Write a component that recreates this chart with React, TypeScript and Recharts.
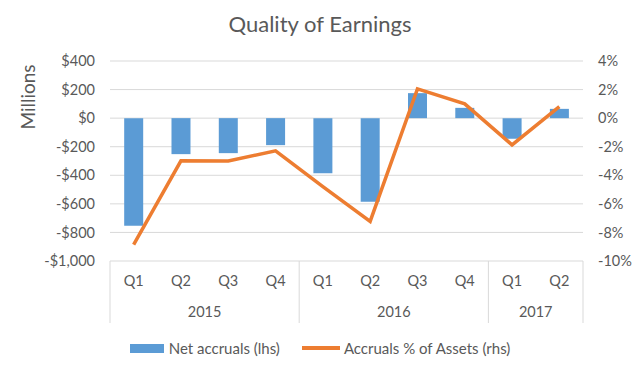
import React from "react";
import { ComposedChart, Bar, Line, XAxis, YAxis, CartesianGrid } from "recharts";

const quarters = ["Q1", "Q2", "Q3", "Q4", "Q1", "Q2", "Q3", "Q4", "Q1", "Q2"];
const years = ["2015", "2015", "2015", "2015", "2016", "2016", "2016", "2016", "2017", "2017"];
const netAccruals = [-753, -252, -245, -189, -385, -585, 175, 72, -145, 65];
const accrualsPct = [-8.86, -2.99, -3.0, -2.29, -4.8, -7.23, 2.05, 1.0, -1.87, 0.81];
const leftTicks = [-1000, -800, -600, -400, -200, 0, 200, 400];
const rightTicks = [-10, -8, -6, -4, -2, 0, 2, 4];

const seriesNames = ["Net accruals (lhs)", "Accruals % of Assets (rhs)"];

const data = quarters.map((q, i) => ({
  q,
  year: years[i],
  net: netAccruals[i],
  pct: accrualsPct[i],
}));

const W = 640;
const H = 368;
const M = { top: 61, right: 0, bottom: 45, left: 0 };
const LEFT_W = 110;
const RIGHT_W = 57;
const Q_H = 36;
const Y_H = 26;
const PLOT_W = W - LEFT_W - RIGHT_W;
const BAND = PLOT_W / data.length;
const FONT = "Lato, 'Open Sans', sans-serif";
const TXT = "#595959";
const GRID = "#d9d9d9";
const BLUE = "#5b9bd5";
const ORANGE = "#ed7d31";

const fmtMoney = (v: number) => (v < 0 ? "-$" : "$") + Math.abs(v).toLocaleString("en-US");
const fmtPct = (v: number) => `${v}%`;

const QTick = (props: any) => {
  const { x, y, payload } = props;
  return (
    <text x={x} y={y + 21} textAnchor="middle" dominantBaseline="middle" fill={TXT} fontSize={14.5} fontFamily={FONT}>
      {payload.value}
    </text>
  );
};

const YearTick = (props: any) => {
  const { x, y, payload } = props;
  const i = payload.index;
  const yr = years[i];
  const isFirst = i === 0 || years[i - 1] !== yr;
  const isLast = i === years.length - 1;
  const count = years.filter((v) => v === yr).length;
  return (
    <g>
      {isFirst && (
        <line x1={x - BAND / 2} x2={x - BAND / 2} y1={y - Q_H} y2={y + Y_H} stroke={GRID} strokeWidth={1} />
      )}
      {isLast && (
        <line x1={x + BAND / 2} x2={x + BAND / 2} y1={y - Q_H} y2={y + Y_H} stroke={GRID} strokeWidth={1} />
      )}
      {isFirst && (
        <text
          x={x + ((count - 1) / 2) * BAND}
          y={y + 16}
          textAnchor="middle"
          dominantBaseline="middle"
          fill={TXT}
          fontSize={14.5}
          fontFamily={FONT}
        >
          {yr}
        </text>
      )}
    </g>
  );
};

export default function App() {
  return (
    <div style={{ position: "absolute", left: 0, top: 0, width: W, height: H, background: "#fff", fontFamily: FONT }}>
      <div
        style={{
          position: "absolute",
          top: 9,
          left: 0,
          width: W,
          textAlign: "center",
          fontSize: 22,
          color: TXT,
          lineHeight: "30px",
        }}
      >
        Quality of Earnings
      </div>
      <ComposedChart width={W} height={H} data={data} margin={M} barCategoryGap="30%">
        <CartesianGrid vertical={false} stroke={GRID} yAxisId="left" />
        <XAxis
          dataKey="q"
          xAxisId="q"
          height={Q_H}
          tickLine={false}
          axisLine={false}
          tickSize={0}
          tickMargin={0}
          interval={0}
          tick={<QTick />}
        />
        <XAxis
          dataKey="year"
          xAxisId="yr"
          height={Y_H}
          tickLine={false}
          axisLine={false}
          tickSize={0}
          tickMargin={0}
          interval={0}
          tick={<YearTick />}
        />
        <YAxis
          yAxisId="left"
          width={LEFT_W}
          domain={[-1000, 400]}
          ticks={leftTicks}
          tickFormatter={fmtMoney}
          tickLine={false}
          axisLine={false}
          tickSize={0}
          tickMargin={15}
          tick={{ fill: TXT, fontSize: 14.5, fontFamily: FONT }}
          label={{
            value: "Millions",
            content: () => (
              <text
                x={30}
                y={97}
                transform="rotate(-90 30 97)"
                textAnchor="middle"
                dominantBaseline="middle"
                fill={TXT}
                fontSize={19}
                fontFamily={FONT}
              >
                Millions
              </text>
            ),
          }}
        />
        <YAxis
          yAxisId="right"
          orientation="right"
          width={RIGHT_W}
          domain={[-10, 4]}
          ticks={rightTicks}
          tickFormatter={fmtPct}
          tickLine={false}
          axisLine={false}
          tickSize={0}
          tickMargin={15}
          tick={{ fill: TXT, fontSize: 14.5, fontFamily: FONT, textAnchor: "start" }}
        />
        <Bar dataKey="net" name={seriesNames[0]} xAxisId="q" yAxisId="left" fill={BLUE} isAnimationActive={false} />
        <Line
          dataKey="pct"
          name={seriesNames[1]}
          xAxisId="q"
          yAxisId="right"
          type="linear"
          stroke={ORANGE}
          strokeWidth={3.5}
          dot={false}
          isAnimationActive={false}
        />
      </ComposedChart>
      <div
        style={{
          position: "absolute",
          top: 339,
          left: 0,
          width: W,
          display: "flex",
          justifyContent: "center",
          alignItems: "center",
          fontSize: 15,
          color: TXT,
          lineHeight: "18px",
        }}
      >
        <span style={{ display: "inline-block", width: 34, height: 9, background: BLUE, marginRight: 5 }} />
        <span style={{ marginRight: 22 }}>{seriesNames[0]}</span>
        <span style={{ display: "inline-block", width: 38, height: 4, background: ORANGE, marginRight: 4 }} />
        <span>{seriesNames[1]}</span>
      </div>
    </div>
  );
}
